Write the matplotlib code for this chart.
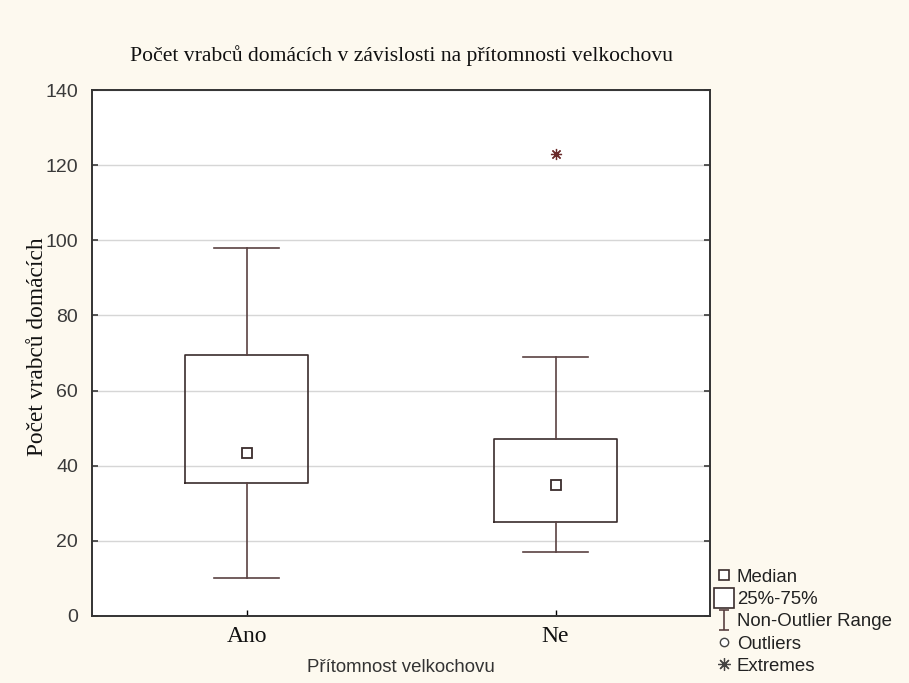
import matplotlib
matplotlib.use("Agg")
import matplotlib.pyplot as plt
from matplotlib.lines import Line2D
from matplotlib.path import Path

# Sparrow counts summarised per group (box-plot statistics)
categories = ["Ano", "Ne"]
whisker_low = [10, 17]
q1 = [35.5, 25]
medians = [43.5, 35]
q3 = [69.5, 47]
whisker_high = [98, 69]
extremes = [[], [123]]

title = "Počet vrabců domácích v závislosti na přítomnosti velkochovu"
xlabel = "Přítomnost velkochovu"
ylabel = "Počet vrabců domácích"
legend_labels = ["Median", "25%-75%", "Non-Outlier Range", "Outliers", "Extremes"]

BG = "#fdf9ef"
BOX = "#3a2c2c"
WHISK = "#5a4242"
EXT = "#6a2a2a"
SERIF = "Liberation Serif"
SANS = "Liberation Sans"

fig = plt.figure(figsize=(9.09, 6.83), dpi=100, facecolor=BG)
ax = fig.add_axes([0.1012, 0.0981, 0.680, 0.770])
ax.set_facecolor("white")

positions = list(range(len(categories)))
stats = []
for i, cat in enumerate(categories):
    stats.append(dict(label=cat, med=medians[i], q1=q1[i], q3=q3[i],
                      whislo=whisker_low[i], whishi=whisker_high[i],
                      fliers=extremes[i]))

ax.bxp(stats, positions=positions, widths=0.4, showfliers=True,
       boxprops=dict(color=BOX, linewidth=1.2),
       whiskerprops=dict(color=WHISK, linewidth=1.2),
       capprops=dict(color=WHISK, linewidth=1.2),
       capwidths=0.21,
       medianprops=dict(linewidth=0, color="none"),
       flierprops=dict(marker=(8, 2, 0), markersize=8, markeredgecolor=EXT,
                       markeredgewidth=0.9, linestyle="none"),
       zorder=3)

# median squares
ax.plot(positions, medians, linestyle="none", marker="s", markersize=7,
        markerfacecolor="white", markeredgecolor=BOX, markeredgewidth=1.3,
        zorder=4)

ax.set_xlim(-0.5, 1.5)
ax.set_ylim(0, 140)
ax.set_yticks(range(0, 141, 20))
ax.set_xticks(positions)
ax.set_xticklabels(categories, fontfamily=SERIF, fontsize=17, color="#111111")
for t in ax.get_yticklabels():
    t.set_fontfamily(SANS)
    t.set_fontsize(14)
    t.set_color("#3a3a3a")

ax.yaxis.grid(True, color="#d6d6d6", linewidth=1.0, zorder=0)
ax.set_axisbelow(True)
ax.tick_params(axis="y", direction="in", length=4, width=1.2, right=True,
               pad=10, colors="#3a3a3a")
ax.tick_params(axis="x", direction="in", length=4, width=1.0, pad=7)
for s in ax.spines.values():
    s.set_color("#333333")
    s.set_linewidth(1.4)

ax.set_title(title, fontfamily=SERIF, fontsize=15.6, color="#111111", pad=21)
ax.set_ylabel(ylabel, fontfamily=SERIF, fontsize=16.8, color="#111111")
ax.yaxis.set_label_coords(-0.071, 0.513)
ax.set_xlabel(xlabel, fontfamily=SANS, fontsize=13.4, color="#333333", labelpad=9)

# legend symbols
cap_path = Path([(-0.5, 1), (0.5, 1), (0, 1), (0, -1), (-0.5, -1), (0.5, -1)],
                [Path.MOVETO, Path.LINETO, Path.MOVETO, Path.LINETO,
                 Path.MOVETO, Path.LINETO])
h_median = Line2D([], [], linestyle="none", marker="s", markersize=7,
                  markerfacecolor="white", markeredgecolor=BOX, markeredgewidth=1.2)
h_box = Line2D([], [], linestyle="none", marker="s", markersize=15,
               markerfacecolor="white", markeredgecolor=BOX, markeredgewidth=1.2)
h_range = Line2D([], [], linestyle="none", marker=cap_path, markersize=15,
                 markerfacecolor="none", markeredgecolor=WHISK, markeredgewidth=1.2)
h_out = Line2D([], [], linestyle="none", marker="o", markersize=6,
               markerfacecolor="white", markeredgecolor="#444444", markeredgewidth=1.0)
h_ext = Line2D([], [], linestyle="none", marker=(8, 2, 0), markersize=9,
               markeredgecolor="#444444", markeredgewidth=0.9)

leg = fig.legend([h_median, h_box, h_range, h_out, h_ext], legend_labels,
                 loc="lower left", bbox_to_anchor=(0.7695, -0.010),
                 frameon=False, handlelength=1.0, handletextpad=0.2,
                 labelspacing=0.28, borderpad=0.3,
                 prop=dict(family=SANS, size=13.4))
for t in leg.get_texts():
    t.set_color("#222222")

fig.savefig("out.png", dpi=100, facecolor=BG)
